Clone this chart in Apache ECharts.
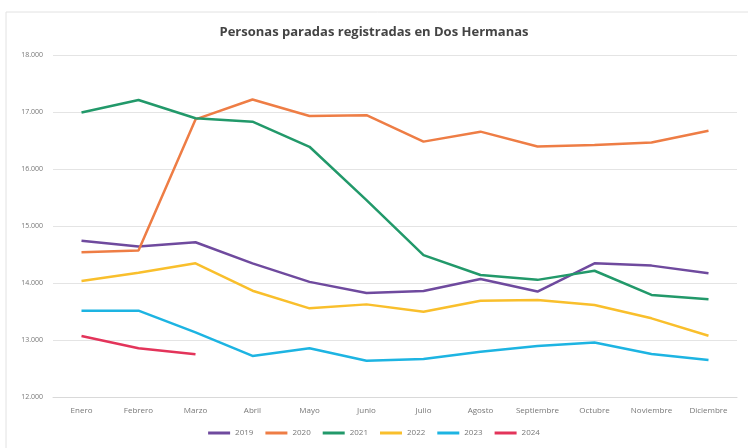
<!DOCTYPE html>
<html>
<head>
<meta charset="utf-8">
<script src="https://cdn.jsdelivr.net/npm/echarts@6/dist/echarts.min.js"></script>
<style>
  html, body { margin: 0; padding: 0; background: #fff; }
  #chart { width: 748px; height: 448px; }
</style>
</head>
<body>
<div id="chart"></div>
<script>
// meses
const months = ['Enero', 'Febrero', 'Marzo', 'Abril', 'Mayo', 'Junio', 'Julio',
  'Agosto', 'Septiembre', 'Octubre', 'Noviembre', 'Diciembre'];

// valores
const y2019 = [14740, 14640, 14715, 14345, 14020, 13825, 13860, 14070, 13850, 14345, 14305, 14170];
const y2020 = [14540, 14570, 16870, 17220, 16930, 16945, 16480, 16655, 16395, 16420, 16465, 16670];
const y2021 = [16990, 17210, 16890, 16830, 16390, 15455, 14490, 14140, 14055, 14215, 13790, 13715];
const y2022 = [14035, 14180, 14345, 13865, 13555, 13625, 13495, 13690, 13700, 13615, 13380, 13075];
const y2023 = [13515, 13515, 13135, 12720, 12855, 12635, 12665, 12795, 12895, 12955, 12755, 12650];
const y2024 = [13070, 12855, 12750];

const yearNames = ['2019', '2020', '2021', '2022', '2023', '2024'];
const yearData = [y2019, y2020, y2021, y2022, y2023, y2024];
const colors = ['#6f4a9e', '#ee7d45', '#22996a', '#f9bf2c', '#1db4e2', '#e3345a'];

const chart = echarts.init(document.getElementById('chart'));

// formato con punto de miles
function fmt(v) {
  return String(v).replace(/\B(?=(\d{3})+(?!\d))/g, '.');
}

const option = {
  backgroundColor: '#fff',
  color: colors,
  textStyle: { fontFamily: 'Open Sans' },
  title: {
    text: 'Personas paradas registradas en Dos Hermanas',
    left: 'center',
    top: 21,
    textStyle: { fontSize: 13, fontWeight: 'bold', color: '#444', fontFamily: 'Open Sans' }
  },
  graphic: [{
    type: 'rect',
    shape: { x: 6, y: 12, width: 750, height: 440 },
    style: { fill: 'none', stroke: '#e2e2e2', lineWidth: 1 },
    silent: true
  }],
  legend: {
    bottom: 6,
    left: 'center',
    itemWidth: 22,
    itemHeight: 3,
    itemGap: 12,
    icon: 'rect',
    textStyle: { fontSize: 8, color: '#777' },
    data: yearNames
  },
  grid: { left: 53, right: 11, top: 55, bottom: 51 },
  xAxis: {
    type: 'category',
    data: months,
    boundaryGap: true,
    axisLine: { lineStyle: { color: '#d9d9d9' } },
    axisTick: { show: false },
    axisLabel: { fontSize: 8, color: '#777', margin: 10, interval: 0 }
  },
  yAxis: {
    type: 'value',
    min: 12000,
    max: 18000,
    interval: 1000,
    axisLine: { show: false },
    axisTick: { show: false },
    splitLine: { lineStyle: { color: '#e4e4e4' } },
    axisLabel: { fontSize: 7, color: '#777', margin: 10, formatter: fmt }
  },
  series: yearNames.map((name, i) => ({
    name: name,
    type: 'line',
    data: yearData[i],
    symbol: 'none',
    lineStyle: { width: 2.5, color: colors[i] },
    itemStyle: { color: colors[i] }
  }))
};

chart.setOption(option);
</script>
</body>
</html>
